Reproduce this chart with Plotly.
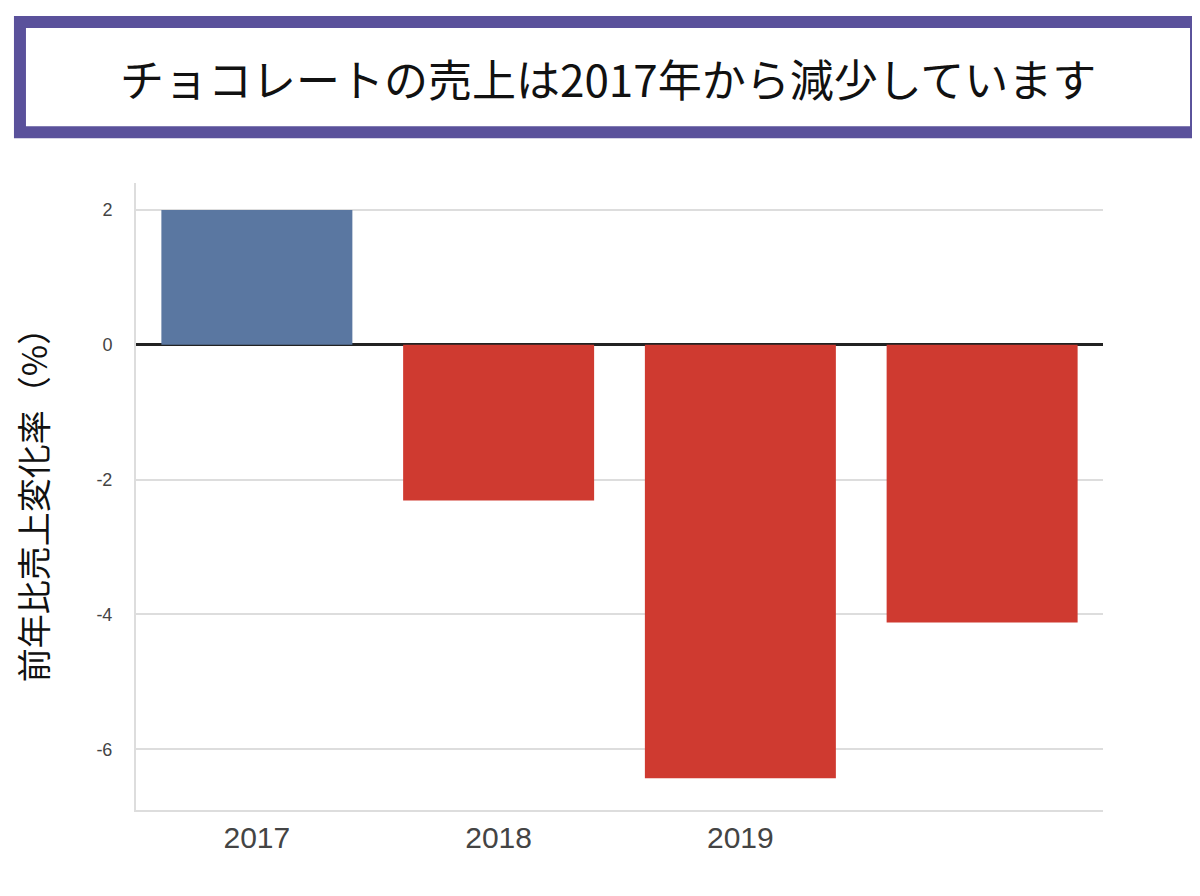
import plotly.graph_objects as go

years = ["2017", "2018", "2019", "2020"]
change = [2.0, -2.31, -6.43, -4.12]
tick_labels = ["2017", "2018", "2019", ""]
y_ticks = [2, 0, -2, -4, -6]
y_tick_labels = ["2", "0", "-2", "-4", "-6"]
bar_colors = ["#5a77a1" if v > 0 else "#cf3a30" for v in change]

fig = go.Figure(go.Bar(x=years, y=change, marker_color=bar_colors, marker_line_width=0, width=0.79))

fig.update_layout(
    width=1200, height=896,
    margin=dict(l=128, r=105, t=175, b=94, autoexpand=False),
    plot_bgcolor="white", paper_bgcolor="white",
    showlegend=False,
    font=dict(family="Noto Sans CJK JP"),
)
fig.update_xaxes(
    tickvals=years, ticktext=tick_labels, automargin=False,
    tickfont=dict(size=30, color="#444", family="Liberation Sans"),
    showline=True, linecolor="#dddddd", linewidth=2, ticks="", ticklen=0,
)
fig.update_yaxes(
    range=[-6.9, 2.4], tickvals=y_ticks, ticktext=y_tick_labels, automargin=False,
    tickfont=dict(size=18, color="#444", family="Liberation Sans"),
    gridcolor="#dddddd", gridwidth=1.5,
    zeroline=True, zerolinecolor="#222", zerolinewidth=3,
    showline=True, linecolor="#dddddd", linewidth=2,
    ticklabelstandoff=18,
    title=dict(text="前年比売上変化率（%）", font=dict(size=34, color="#111"), standoff=40),
)
# title box
fig.add_shape(type="rect", xref="paper", yref="paper",
              x0=-0.12, x1=1.0962, y0=1.081, y1=1.2568,
              line=dict(color="#5a519b", width=12), fillcolor="white")
fig.add_annotation(xref="paper", yref="paper", x=0.488, y=1.1675, showarrow=False,
                   xanchor="center", yanchor="middle",
                   text="チョコレートの売上は2017年から減少しています",
                   font=dict(size=44, color="#111", family="Noto Sans CJK JP"))

fig.write_html("out.html")
